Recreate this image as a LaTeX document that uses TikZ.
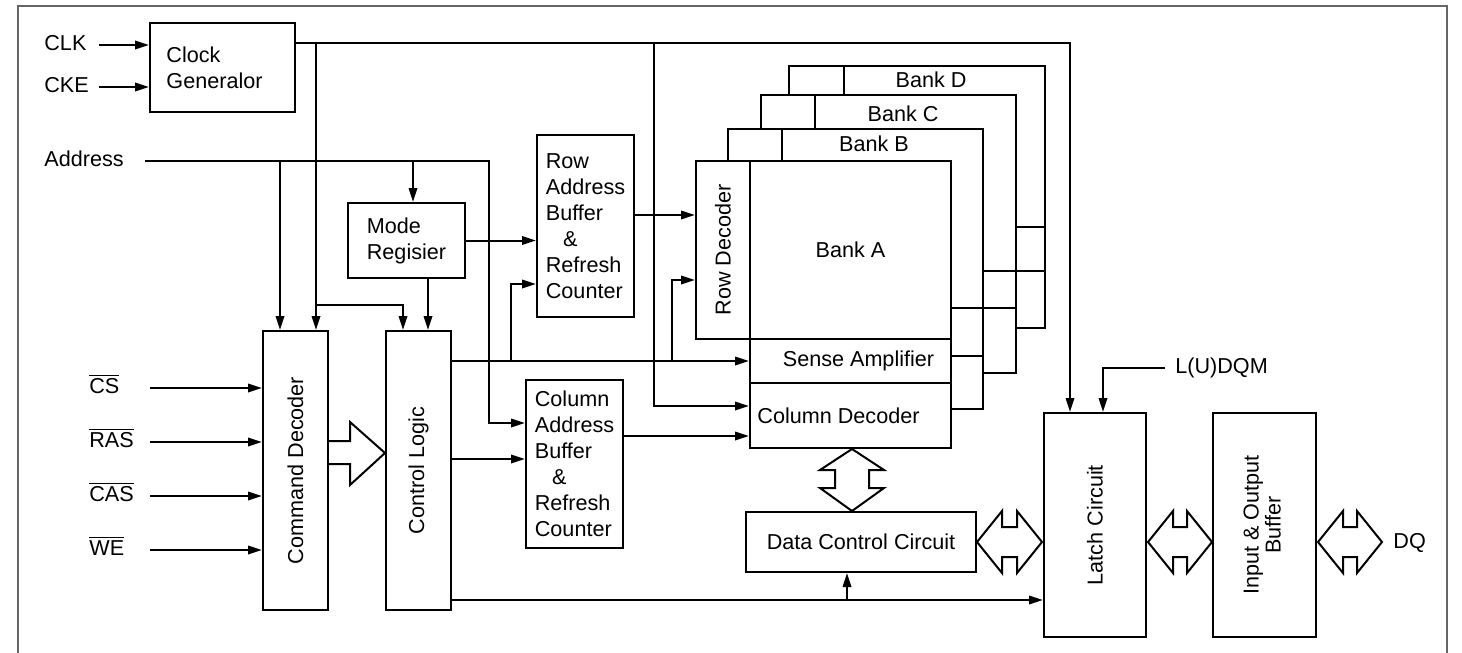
\documentclass[tikz,border=0pt]{standalone}
\usepackage{fontspec}
\setmainfont{Liberation Sans}
\usetikzlibrary{arrows.meta,calc}
\tikzset{
  blockbox/.style={draw, line width=1pt, fill=white, inner sep=1pt, align=center},
  siglabel/.style={inner sep=0pt, anchor=mid west},
  arrow/.style={-{Triangle[length=7pt,width=4.2pt]}, line width=1pt},
  hollow/.style={draw, line width=1pt, fill=white, line join=miter},
  bankline/.style={draw, line width=1pt, fill=white},
  frameline/.style={draw=black!60, line width=0.9pt}
}

\begin{document}
\begin{tikzpicture}[x=0.5pt, y=-0.5pt, font=\fontsize{10.8}{13}\selectfont]
  \useasboundingbox (0,0) rectangle (1462,653);
  \draw[frameline] (18,660) -- (18,6) -- (1447,6) -- (1447,660);

  % banks D, C, B behind bank A
  \foreach \l/\t/\r/\b/\d/\m/\s in {789/66/1045/328/844/227/271,
      761/95/1016/373/815/271/308, 728/129/983/409/782/308/356} {
    \draw[bankline] (\l,\t) -- (\r,\t) -- (\r,\b) -- (\d,\b) -- (\d,\m) -- (\l,\m) -- cycle;
    \draw[line width=1pt] (\d,\t) -- (\d,\m) -- (\r,\m);
    \draw[line width=1pt] (\d,\s) -- (\r,\s);
  }
  \node (bankd) at (931,80) {Bank D};
  \node (bankc) at (903,114) {Bank C};
  \node (bankb) at (874,144) {Bank B};

  % blocks
  \node[blockbox, align=left, minimum width=72.5pt, minimum height=44.5pt] (clk) at (222.5,67.5) {Clock\hspace*{8pt}\\Generalor\hspace*{8pt}};
  \node[blockbox, align=left, minimum width=58.5pt, minimum height=37.5pt] (mode) at (406.5,240.5) {Mode\\Regisier};
  \node[blockbox, align=left, minimum width=48.5pt, minimum height=91pt] (rowbuf) at (585.5,226) {Row\\Address\\Buffer\\\hspace*{0.8em}\&\\Refresh\\Counter};
  \node[blockbox, align=left, minimum width=48.5pt, minimum height=84pt] (colbuf) at (574.5,464) {Column\\Address\\Buffer\\\hspace*{0.8em}\&\\Refresh\\Counter};
  \node[blockbox, minimum width=32.5pt, minimum height=139.5pt] (cmd) at (295.5,470.5) {\rotatebox{90}{Command Decoder}};
  \node[blockbox, minimum width=32.5pt, minimum height=139.5pt] (ctrl) at (418.5,470.5) {\rotatebox{90}{Control Logic}};
  \node[blockbox, minimum width=27pt, minimum height=89pt] (rowdec) at (723,250) {\rotatebox{90}{Row Decoder}};
  \node[blockbox, minimum width=100.5pt, minimum height=89pt] (banka) at (850.5,250) {Bank A};
  \node[blockbox, minimum width=100.5pt, minimum height=22pt] (sense) at (850.5,361) {\hspace*{8pt}Sense Amplifier};
  \node[blockbox, minimum width=100.5pt, minimum height=32.5pt] (coldec) at (850.5,415.5) {Column Decoder\hspace*{12pt}};
  \node[blockbox, minimum width=115pt, minimum height=30pt] (datac) at (861,542) {Data Control Circuit};
  \node[blockbox, minimum width=51pt, minimum height=112pt] (latch) at (1095,525) {\rotatebox{90}{Latch Circuit}};
  \node[blockbox, minimum width=51.5pt, minimum height=112pt] (iobuf) at (1264.5,525) {\rotatebox{90}{\begin{tabular}{@{}c@{}}Input \& Output\\[-2pt]Buffer\end{tabular}}};

  % signal names
  \node[siglabel] (clkin) at (44,45) {CLK};
  \node[siglabel] (ckein) at (44,87) {CKE};
  \node[siglabel] (addr) at (44,161) {Address};
  \node[siglabel] (cs) at (89,388) {$\overline{\hbox{CS}}$};
  \node[siglabel] (ras) at (89,442) {$\overline{\hbox{RAS}}$};
  \node[siglabel] (cas) at (89,496) {$\overline{\hbox{CAS}}$};
  \node[siglabel] (we) at (89,550) {$\overline{\hbox{WE}}$};
  \node[siglabel] (ldqm) at (1175,368) {L(U)DQM};
  \node[siglabel] (dq) at (1393,543) {DQ};

  % clock
  \draw[arrow] (clkin.mid -| 99,0) -- (clkin.mid -| clk.west);
  \draw[arrow] (ckein.mid -| 99,0) -- (ckein.mid -| clk.west);
  \draw[arrow] (clk.east |- 0,43) -| (latch.north -| 1070,0);
  \draw[arrow] (316,43) -- (316,0 |- cmd.north);
  \draw[arrow] (316,305) -| (403,0 |- ctrl.north);
  \draw[arrow] (654,43) |- (coldec.west |- 0,406);

  % address
  \draw[arrow] (addr.mid -| 145,0) -- (addr.mid -| 489,0) |- (colbuf.west |- 0,423);
  \draw[arrow] (addr.mid -| 280,0) -- (280,0 |- cmd.north);
  \draw[arrow] (addr.mid -| 413,0) -- (413,0 |- mode.north);
  \draw[arrow] (428,0 |- mode.south) -- (428,0 |- ctrl.north);
  \draw[arrow] (mode.east) -- (mode.east -| rowbuf.west);
  \draw[arrow] (rowbuf.east |- 0,215) -- (rowdec.west |- 0,215);
  \draw[arrow] (colbuf.east |- 0,436) -- (coldec.west |- 0,436);

  % commands
  \foreach \sig in {cs,ras,cas,we}
    \draw[arrow] (\sig.mid -| 150,0) -- (\sig.mid -| cmd.west);
  \draw[hollow] (cmd.east |- 0,441) -- (350,441) -- (350,422) -- (ctrl.west |- 0,453)
    -- (350,485) -- (350,464) -- (cmd.east |- 0,464);

  % control logic
  \draw[arrow] (ctrl.east |- sense.west) -- (sense.west);
  \draw[arrow] (511,0 |- sense.west) |- (rowbuf.west |- 0,284);
  \draw[arrow] (672,0 |- sense.west) |- (rowdec.west |- 0,280);
  \draw[arrow] (ctrl.east |- 0,459) -- (colbuf.west |- 0,459);
  \draw[arrow] (ctrl.east |- 0,600) -- (latch.west |- 0,600);
  \draw[arrow] (847,600) -- (847,0 |- datac.south);
  \draw[arrow] ($(ldqm.mid west)+(-10,0)$) -| (latch.north -| 1103,0);

  % data buses
  \draw[hollow] (852,0 |- coldec.south) -- (884,470) -- (869,470) -- (869,488) -- (884,488)
    -- (852,0 |- datac.north) -- (820,488) -- (835,488) -- (835,470) -- (820,470) -- cycle;
  \foreach \xa/\xb in {977/1042, 1148/1212, 1318/1382}
    \draw[hollow] (\xa,542) -- (\xa+25,511) -- (\xa+25,527) -- (\xb-25,527) -- (\xb-25,511)
      -- (\xb,542) -- (\xb-25,573) -- (\xb-25,557) -- (\xa+25,557) -- (\xa+25,573) -- cycle;
\end{tikzpicture}
\end{document}
